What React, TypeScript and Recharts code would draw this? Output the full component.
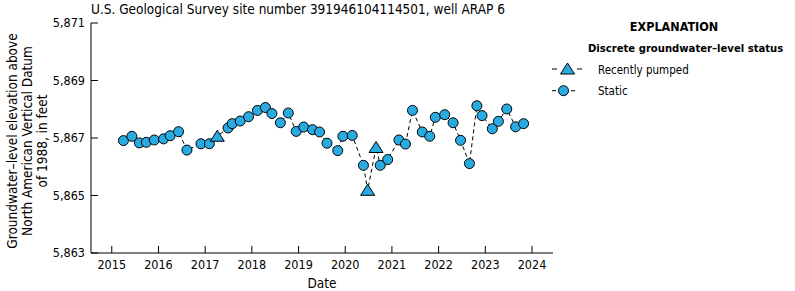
import React from "react";
import { ComposedChart, Line, XAxis, YAxis, Legend } from "recharts";

const FONT = "'Liberation Sans Narrow', 'Arial Narrow', 'DejaVu Sans Condensed', sans-serif";
const MARKER_FILL = "#29abe2";

// decimal year of each measurement
const sampleDates = [
  2015.25, 2015.43, 2015.59, 2015.74, 2015.91, 2016.11, 2016.25, 2016.43, 2016.61, 2016.91,
  2017.09, 2017.26, 2017.49, 2017.58, 2017.75, 2017.93, 2018.12, 2018.29, 2018.43, 2018.61,
  2018.78, 2018.95, 2019.11, 2019.3, 2019.45, 2019.61, 2019.84, 2019.95, 2020.15, 2020.39,
  2020.48, 2020.66, 2020.75, 2020.91, 2021.15, 2021.29, 2021.44, 2021.65, 2021.81, 2021.93,
  2022.13, 2022.31, 2022.47, 2022.66, 2022.82, 2022.93, 2023.15, 2023.28, 2023.46, 2023.65,
  2023.82,
];

const waterLevels = [
  5866.91, 5867.06, 5866.83, 5866.85, 5866.93, 5866.97, 5867.08, 5867.22, 5866.58, 5866.8,
  5866.8, 5867.06, 5867.35, 5867.5, 5867.59, 5867.74, 5867.96, 5868.06, 5867.85, 5867.53,
  5867.87, 5867.23, 5867.38, 5867.29, 5867.21, 5866.82, 5866.56, 5867.06, 5867.09, 5866.05,
  5865.18, 5866.67, 5866.05, 5866.25, 5866.93, 5866.79, 5867.96, 5867.21, 5867.06, 5867.72,
  5867.81, 5867.53, 5866.92, 5866.11, 5868.12, 5867.78, 5867.32, 5867.58, 5868.01, 5867.39,
  5867.5,
];

// samples flagged "Recently pumped"
const pumpedDates = [2017.26, 2020.48, 2020.66];

const yearTicks = [2015, 2016, 2017, 2018, 2019, 2020, 2021, 2022, 2023, 2024];
const levelTicks = [5863, 5865, 5867, 5869, 5871];
const xDomain = [2014.555, 2024.45];
const yDomain = [5863, 5871];

const chartData = sampleDates.map((t, i) => ({
  t,
  level: waterLevels[i],
  status: pumpedDates.includes(t) ? "pumped" : "static",
}));

const triangle = (cx: number, cy: number) =>
  `${cx},${cy - 6} ${cx + 7},${cy + 5} ${cx - 7},${cy + 5}`;

const Marker = (props: any) => {
  const { cx, cy, payload, index } = props;
  if (cx == null || cy == null) return null;
  if (payload.status === "pumped") {
    return (
      <polygon
        key={`m-${index}`}
        points={triangle(cx, cy)}
        fill={MARKER_FILL}
        stroke="#000"
        strokeWidth={1}
      />
    );
  }
  return (
    <circle
      key={`m-${index}`}
      cx={cx}
      cy={cy}
      r={5}
      fill={MARKER_FILL}
      stroke="#000"
      strokeWidth={1}
    />
  );
};

const YTitle = (props: any) => {
  const { viewBox } = props;
  const cy = viewBox.y + viewBox.height / 2 + 3;
  const lines = [
    "Groundwater\u2013level elevation above",
    "North American Vertical Datum",
    "of 1988, in feet",
  ];
  return (
    <g>
      {lines.map((line, i) => {
        const x = 17 + i * 15;
        return (
          <text
            key={line}
            x={x}
            y={cy}
            transform={`rotate(-90, ${x}, ${cy})`}
            textAnchor="middle"
            fontSize={13.5}
            fill="#000"
            fontFamily={FONT}
          >
            {line}
          </text>
        );
      })}
    </g>
  );
};

const ExplanationLegend = () => (
  <svg width={250} height={100} style={{ display: "block", fontFamily: FONT }}>
    <text x={129} y={21} textAnchor="middle" fontSize={12.5} fontWeight="bold">
      EXPLANATION
    </text>
    <text x={43} y={42} fontSize={11.2} fontWeight="bold">
      Discrete groundwater{"\u2013"}level status
    </text>
    <line x1={7} x2={12} y1={59} y2={59} stroke="#000" />
    <line x1={32} x2={37} y1={59} y2={59} stroke="#000" />
    <polygon points={triangle(22.5, 59)} fill={MARKER_FILL} stroke="#000" />
    <text x={53} y={63.5} fontSize={11.5}>
      Recently pumped
    </text>
    <line x1={7} x2={11} y1={80.7} y2={80.7} stroke="#000" />
    <line x1={26} x2={30} y1={80.7} y2={80.7} stroke="#000" />
    <circle cx={18.5} cy={80.7} r={5} fill={MARKER_FILL} stroke="#000" />
    <text x={53} y={85} fontSize={11.5}>
      Static
    </text>
  </svg>
);

const tickStyle = { fill: "#000", fontSize: 12.5, fontFamily: FONT };

export default function App() {
  return (
    <div
      style={{
        position: "absolute",
        left: 0,
        top: 0,
        width: 795,
        height: 291,
        background: "#fff",
        fontFamily: FONT,
      }}
    >
      <div
        style={{
          position: "absolute",
          left: 91,
          top: 3,
          fontSize: 13.5,
          lineHeight: "13px",
          whiteSpace: "nowrap",
          color: "#000",
        }}
      >
        U.S. Geological Survey site number 391946104114501, well ARAP 6
      </div>
      <ComposedChart
        width={795}
        height={291}
        data={chartData}
        margin={{ top: 23, right: 242, bottom: 0, left: 0 }}
      >
        <XAxis
          dataKey="t"
          type="number"
          domain={xDomain}
          ticks={yearTicks}
          allowDataOverflow
          height={38}
          tickSize={-7}
          tickMargin={14}
          stroke="#000"
          tick={tickStyle}
          label={{
            value: "Date",
            position: "insideBottom",
            offset: 3,
            fill: "#000",
            fontSize: 13.5,
            fontFamily: FONT,
          }}
        />
        <XAxis
          xAxisId="top"
          dataKey="t"
          orientation="top"
          type="number"
          domain={xDomain}
          ticks={yearTicks}
          allowDataOverflow
          height={0}
          tickSize={-7}
          tick={false}
          stroke="#000"
        />
        <YAxis
          type="number"
          domain={yDomain}
          ticks={levelTicks}
          allowDataOverflow
          width={91}
          tickSize={-7}
          tickMargin={13}
          stroke="#000"
          tick={tickStyle}
          tickFormatter={(v: number) => v.toLocaleString("en-US")}
          label={{ content: YTitle }}
        />
        <YAxis
          yAxisId="right"
          orientation="right"
          type="number"
          domain={yDomain}
          ticks={levelTicks}
          allowDataOverflow
          width={0}
          tickSize={-7}
          tick={false}
          stroke="#000"
        />
        <Legend
          layout="vertical"
          align="center"
          verticalAlign="middle"
          wrapperStyle={{ left: 545, top: 10, width: 250 }}
          content={ExplanationLegend}
        />
        <Line
          dataKey="level"
          stroke="#000"
          strokeWidth={1}
          strokeDasharray="4 3"
          dot={Marker}
          activeDot={false}
          isAnimationActive={false}
          legendType="none"
        />
      </ComposedChart>
    </div>
  );
}
